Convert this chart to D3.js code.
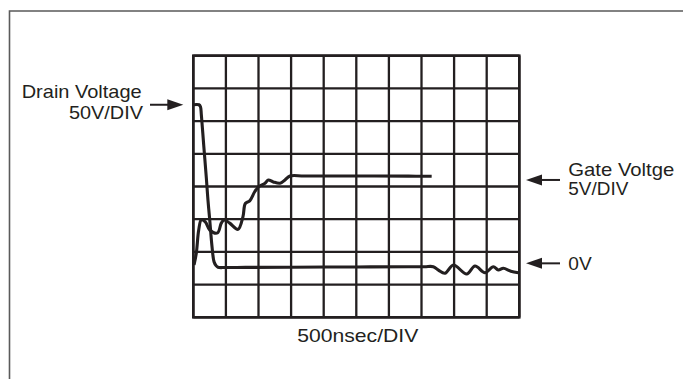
<!DOCTYPE html>
<html>
<head>
<meta charset="utf-8">
<script src="https://cdn.jsdelivr.net/npm/d3@7"></script>
<style>
  html, body { margin: 0; padding: 0; background: #fff; }
  svg { display: block; }
  text { font-family: "Liberation Sans", Arial, Helvetica, sans-serif; fill: #231f20; }
</style>
</head>
<body>
<svg id="scope" width="683" height="379"></svg>
<script>
// Time base: 500 ns per division, 10 divisions across
const timeDivisions = d3.range(0, 5001, 500);
// Vertical: 8 divisions, 0 V sits 1.5 divisions above the bottom line
const levelDivisions = d3.range(-1.5, 6.6, 1);

// Drain voltage trace (ns, volts) at 50 V/DIV
const drainTime = [0, 87, 110, 123, 160, 200, 225, 252, 287, 318, 349, 379, 486, 800, 1500, 2500, 3300, 3550, 3680, 3760, 3860, 3989, 4193, 4321, 4474, 4602, 4678, 4755, 4870, 4985];
const drainVolts = [250, 250, 247, 235, 188, 138, 104, 74, 33, 10, 4, 1.5, 1.1, 1.3, 1.6, 2.0, 2.3, 2.4, 2.4, -3, -7.7, 5.0, -8.8, 3.4, -6.8, 2.4, -2.7, 0, -4.5, -6.8];

// Gate voltage trace (ns, volts) at 5 V/DIV
const gateTime = [11, 46, 83, 123, 184, 252, 371, 429, 471, 558, 686, 762, 798, 865, 942, 997, 1100, 1150, 1227, 1330, 1406, 1483, 1700, 2500, 3300, 3656];
const gateVolts = [0.5, 2.3, 5.85, 7.4, 7.1, 5.85, 5.4, 6.9, 7.4, 6.9, 5.95, 7.9, 9.9, 10.3, 11.7, 12.4, 13.0, 13.5, 13.2, 13.0, 13.5, 14.1, 14.1, 14.1, 14.08, 14.06];

// Channel labels
const drainLabel = ["Drain Voltage", "50V/DIV"];
const gateLabel = ["Gate Voltge", "5V/DIV"];
const zeroLabel = "0V";
const timeLabel = "500nsec/DIV";

const svg = d3.select("#scope");
const ink = "#231f20";

const grid = { left: 193.3, right: 519.3, top: 55.7, bottom: 317.3 };

const x = d3.scaleLinear().domain([0, 5000]).range([grid.left, grid.right]);
const yDiv = d3.scaleLinear().domain([-1.5, 6.5]).range([grid.bottom, grid.top]);
const yDrain = d3.scaleLinear().domain([-75, 325]).range([grid.bottom, grid.top]);
const yGate = d3.scaleLinear().domain([-7.5, 32.5]).range([grid.bottom, grid.top]);

// Page frame (top and left edges)
svg.append("path")
  .attr("d", `M9.5,379 L9.5,11 L683,11`)
  .attr("fill", "none")
  .attr("stroke", "#5a5a5a")
  .attr("stroke-width", 1.6);

// Graticule
const g = svg.append("g");
g.selectAll("line.v").data(timeDivisions).join("line")
  .attr("class", "v")
  .attr("x1", d => x(d)).attr("x2", d => x(d))
  .attr("y1", grid.top).attr("y2", grid.bottom)
  .attr("stroke", ink).attr("stroke-width", 2.3);
g.selectAll("line.h").data(levelDivisions).join("line")
  .attr("class", "h")
  .attr("y1", d => yDiv(d)).attr("y2", d => yDiv(d))
  .attr("x1", grid.left).attr("x2", grid.right)
  .attr("stroke", ink).attr("stroke-width", 2.3);
g.append("rect")
  .attr("x", grid.left).attr("y", grid.top)
  .attr("width", grid.right - grid.left).attr("height", grid.bottom - grid.top)
  .attr("fill", "none").attr("stroke", ink).attr("stroke-width", 2.6);

// Traces, smoothed through the sampled points
const smooth = d3.curveCatmullRom.alpha(0.5);
const drainLine = d3.line()
  .x((d, i) => x(drainTime[i]))
  .y(d => yDrain(d))
  .curve(smooth);
const gateLine = d3.line()
  .x((d, i) => x(gateTime[i]))
  .y(d => yGate(d))
  .curve(smooth);

svg.append("path").attr("d", drainLine(drainVolts))
  .attr("fill", "none").attr("stroke", ink).attr("stroke-width", 3.1)
  .attr("stroke-linejoin", "round").attr("stroke-linecap", "butt");
svg.append("path").attr("d", gateLine(gateVolts))
  .attr("fill", "none").attr("stroke", ink).attr("stroke-width", 3.1)
  .attr("stroke-linejoin", "round").attr("stroke-linecap", "butt");

// Arrow helper: shaft plus filled head pointing at tipX
function arrow(fromX, tipX, yPos) {
  const dir = Math.sign(tipX - fromX);
  const headLen = 16, headHalf = 5.5;
  svg.append("line")
    .attr("x1", fromX).attr("x2", tipX - dir * headLen * 0.6)
    .attr("y1", yPos).attr("y2", yPos)
    .attr("stroke", ink).attr("stroke-width", 2);
  svg.append("path")
    .attr("d", `M${tipX},${yPos} L${tipX - dir * headLen},${yPos - headHalf} L${tipX - dir * headLen},${yPos + headHalf} Z`)
    .attr("fill", ink);
}

const fs = 18.5;
function label(txt, xPos, yPos, anchor, len) {
  svg.append("text")
    .attr("x", xPos).attr("y", yPos)
    .attr("text-anchor", anchor)
    .attr("font-size", fs)
    .attr("textLength", len)
    .attr("lengthAdjust", "spacingAndGlyphs")
    .text(txt);
}

// Drain channel marker
arrow(150, 183.3, yDrain(250));
label(drainLabel[0], 141.7, 97.5, "end", 120);
label(drainLabel[1], 143, 119.3, "end", 74);

// Gate channel marker
arrow(560, 526, yGate(13.5));
label(gateLabel[0], 568.3, 176, "start", 106);
label(gateLabel[1], 568.3, 195, "start", 60);

// Zero reference marker
arrow(560, 526, yDiv(0.15));
label(zeroLabel, 568.3, 270, "start", 23.4);

// Time base
label(timeLabel, (297.3 + 418.3) / 2, 341.7, "middle", 121);
</script>
</body>
</html>
